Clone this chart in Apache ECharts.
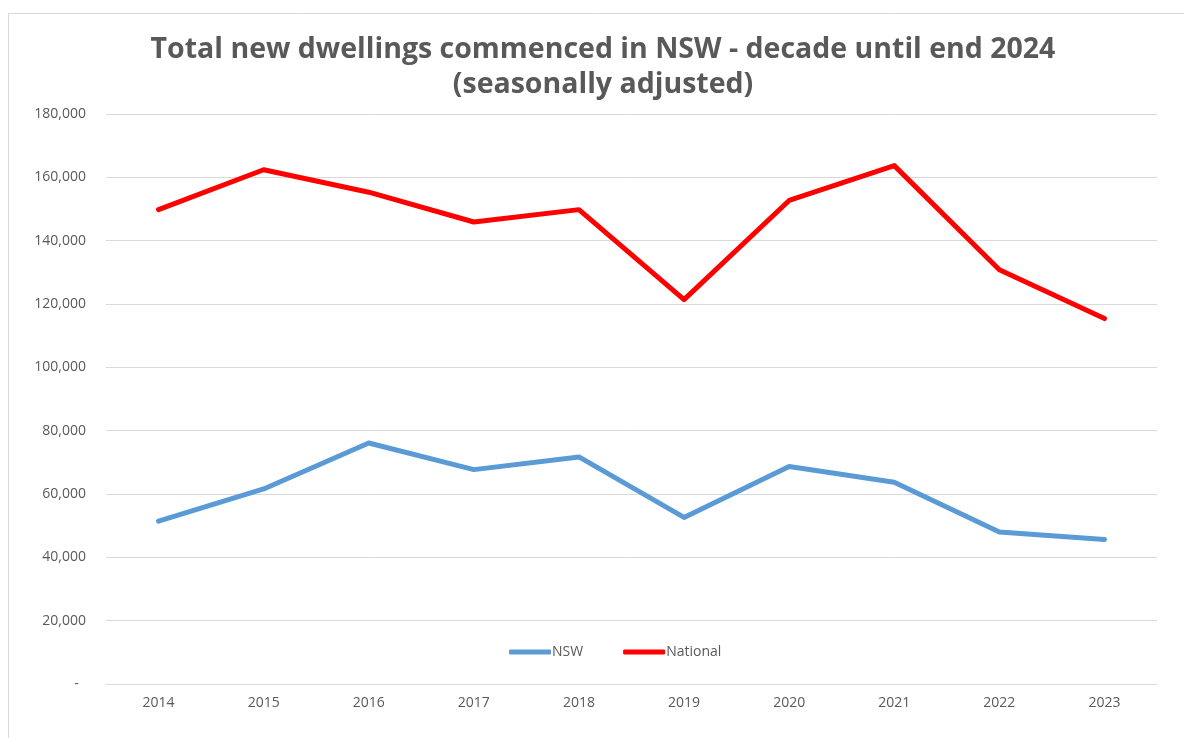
<!DOCTYPE html>
<html><head><meta charset="utf-8">
<script src="https://cdn.jsdelivr.net/npm/echarts@6/dist/echarts.min.js"></script>
<style>html,body{margin:0;padding:0;background:#fff}#c{width:1184px;height:738px}</style>
</head><body><div id="c"></div>
<script>
const years = ['2014','2015','2016','2017','2018','2019','2020','2021','2022','2023'];
const nsw = [51400, 61600, 76100, 67700, 71700, 52600, 68700, 63700, 48000, 45600];
const national = [149800, 162400, 155300, 145900, 149800, 121400, 152700, 163700, 130800, 115400];
const titleText = 'Total new dwellings commenced in NSW - decade until end 2024\n(seasonally adjusted)';

const chart = echarts.init(document.getElementById('c'));
chart.setOption({
  animation: false,
  backgroundColor: '#fff',
  graphic: [{type:'rect', shape:{x:8.5,y:13.5,width:1200,height:760}, style:{fill:'none', stroke:'#D9D9D9', lineWidth:1}, silent:true}],
  title: {
    text: titleText, left: 598, top: 27, textAlign: 'center',
    textStyle: {fontFamily: 'Open Sans', fontWeight: 'bold', fontSize: 28.5, color: '#595959', lineHeight: 35}
  },
  legend: {
    data: ['NSW','National'], left: 504, top: 640, itemWidth: 42, itemHeight: 5, itemGap: 40,
    icon: 'roundRect',
    textStyle: {fontFamily: 'Open Sans', fontSize: 14, color: '#595959', padding:[0,0,0,-4]}
  },
  grid: {left: 106, right: 27, top: 114, bottom: 54, containLabel: false},
  xAxis: {
    type: 'category', data: years, boundaryGap: true,
    axisLine: {lineStyle: {color: '#D9D9D9'}}, axisTick: {show: false},
    axisLabel: {fontFamily: 'Open Sans', fontSize: 14, color: '#595959', margin: 12}
  },
  yAxis: {
    type: 'value', min: 0, max: 180000, interval: 20000,
    axisLine: {show: false}, axisTick: {show: false},
    splitLine: {lineStyle: {color: '#D9D9D9'}},
    axisLabel: {fontFamily: 'Open Sans', fontSize: 14, color: '#595959', margin: 20,
      formatter: v => v === 0 ? '-  ' : v.toLocaleString('en-US')}
  },
  series: [
    {name: 'NSW', type: 'line', data: nsw, symbol: 'none', lineStyle: {width: 5, color: '#5B9BD5', cap:'round', join:'round'}, itemStyle: {color: '#5B9BD5'}},
    {name: 'National', type: 'line', data: national, symbol: 'none', lineStyle: {width: 5, color: '#FF0000', cap:'round', join:'round'}, itemStyle: {color: '#FF0000'}}
  ]
});
</script></body></html>
